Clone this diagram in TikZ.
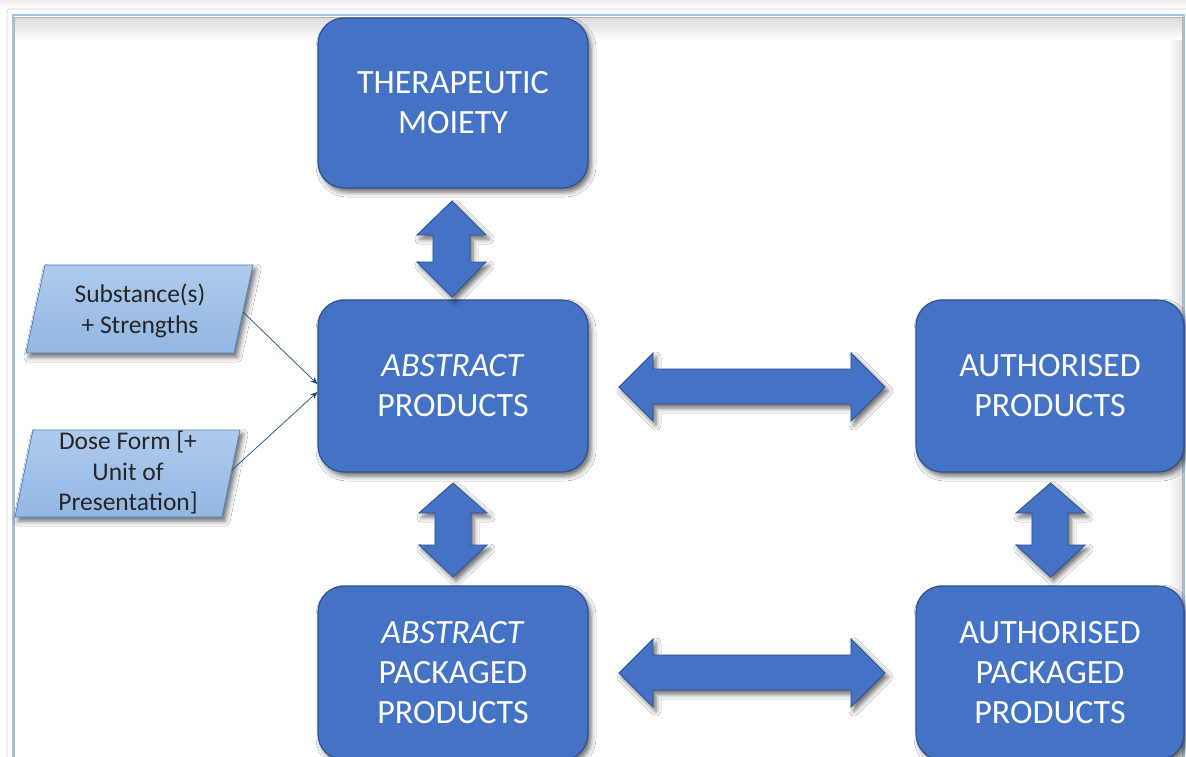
\documentclass[tikz,border=0pt]{standalone}
\usepackage{fontspec}
\setmainfont{Carlito}
\usetikzlibrary{shadows.blur,arrows.meta}
\definecolor{boxblue}{RGB}{68,114,196}
\definecolor{boxedge}{RGB}{47,82,143}
\definecolor{paralight}{RGB}{174,203,236}
\definecolor{paradark}{RGB}{146,183,226}
\definecolor{paraedge}{RGB}{84,130,188}
\definecolor{linkblue}{RGB}{75,120,160}
\definecolor{tipblue}{RGB}{31,78,121}
\definecolor{frameblue}{RGB}{157,195,230}
\begin{document}
\begin{tikzpicture}[x=1pt,y=-1pt,
  shad/.style={blur shadow={shadow xshift=3pt,shadow yshift=-4pt,shadow blur radius=5pt,shadow opacity=60}},
  bigbox/.style={draw=boxedge,line width=1.2pt,fill=boxblue,rounded corners=26pt,shad,
    text=white,align=center,font=\fontsize{34}{40}\selectfont,inner sep=0pt},
  blockarrow/.style={draw=boxedge,line width=0.8pt,fill=boxblue,shad},
  para/.style={draw=paraedge,line width=0.8pt,top color=paralight,bottom color=paradark,shad},
  ptext/.style={align=center,text=black!85,font=\fontsize{25.5}{30.5}\selectfont,inner sep=0pt},
  link/.style={draw=linkblue,line width=0.7pt,-{Stealth[length=7pt,width=6pt]},tipblue}
]
\useasboundingbox (0,0) rectangle (1186,756);
\clip (0,0) rectangle (1186,756);
% frame
\fill[white] (0,0) rectangle (1186,756);
\shade[top color=gray!12,bottom color=white] (0,0) rectangle (1186,9);
\draw[gray!35,line width=0.8pt,rounded corners=3pt] (7,9) rectangle (1200,800);
\draw[frameblue,line width=2pt] (12.5,15) rectangle (1184,800);
\shade[top color=gray!28,bottom color=white] (14.5,17) rectangle (1182,40);
\shade[left color=white,right color=gray!22] (1168,40) rectangle (1182,756);
\draw[gray!60,line width=0.6pt] (14.5,800) -- (14.5,17) -- (1182,17) -- (1182,800);

% main boxes
\node[bigbox,minimum width=270pt,minimum height=170pt] (tm) at (453,103) {THERAPEUTIC\\MOIETY};
\node[bigbox,minimum width=270pt,minimum height=172pt] (ap) at (453,386) {\textit{ABSTRACT}\\PRODUCTS};
\node[bigbox,minimum width=270pt,minimum height=174pt] (app) at (453,673) {\textit{ABSTRACT}\\PACKAGED\\PRODUCTS};
\node[bigbox,minimum width=268pt,minimum height=172pt] (auth) at (1050,386) {AUTHORISED\\PRODUCTS};
\node[bigbox,minimum width=268pt,minimum height=174pt] (authp) at (1050,673) {AUTHORISED\\PACKAGED\\PRODUCTS};

% block double arrows (vertical)
\draw[blockarrow] (452,201) -- (486,235) -- (470,235) -- (470,262) -- (486,262) -- (452,297)
  -- (417,262) -- (433,262) -- (433,235) -- (417,235) -- cycle;
\draw[blockarrow] (453,483) -- (487,513) -- (471,513) -- (471,545) -- (487,545) -- (453,577)
  -- (419,545) -- (435,545) -- (435,513) -- (419,513) -- cycle;
\draw[blockarrow] (1050.5,483) -- (1085,513) -- (1068,513) -- (1068,545) -- (1085,545) -- (1050.5,577)
  -- (1016,545) -- (1032,545) -- (1032,513) -- (1016,513) -- cycle;
% block double arrows (horizontal)
\draw[blockarrow] (619,387) -- (653,353) -- (653,369) -- (851,369) -- (851,353) -- (885,387)
  -- (851,421) -- (851,404) -- (653,404) -- (653,421) -- cycle;
\draw[blockarrow] (619,673) -- (653,639) -- (653,655) -- (851,655) -- (851,639) -- (885,673)
  -- (851,707) -- (851,690) -- (653,690) -- (653,707) -- cycle;

% parallelograms
\draw[para] (45,265) -- (253,265) -- (234,353) -- (26,353) -- cycle;
\node[ptext] (sub) at (140,311) {Substance(s)\\+ Strengths};
\draw[para] (33,430) -- (240,430) -- (222,517) -- (15,517) -- cycle;
\node[ptext] (dose) at (128,473) {Dose Form [+\\Unit of\\Presentation]};

% connectors
\coordinate (s1) at (243,312);
\coordinate (d1) at (232,470);
\draw[link] (s1) -- ([yshift=2pt]ap.west);
\draw[link] (d1) -- ([yshift=-6pt]ap.west);
\end{tikzpicture}
\end{document}
